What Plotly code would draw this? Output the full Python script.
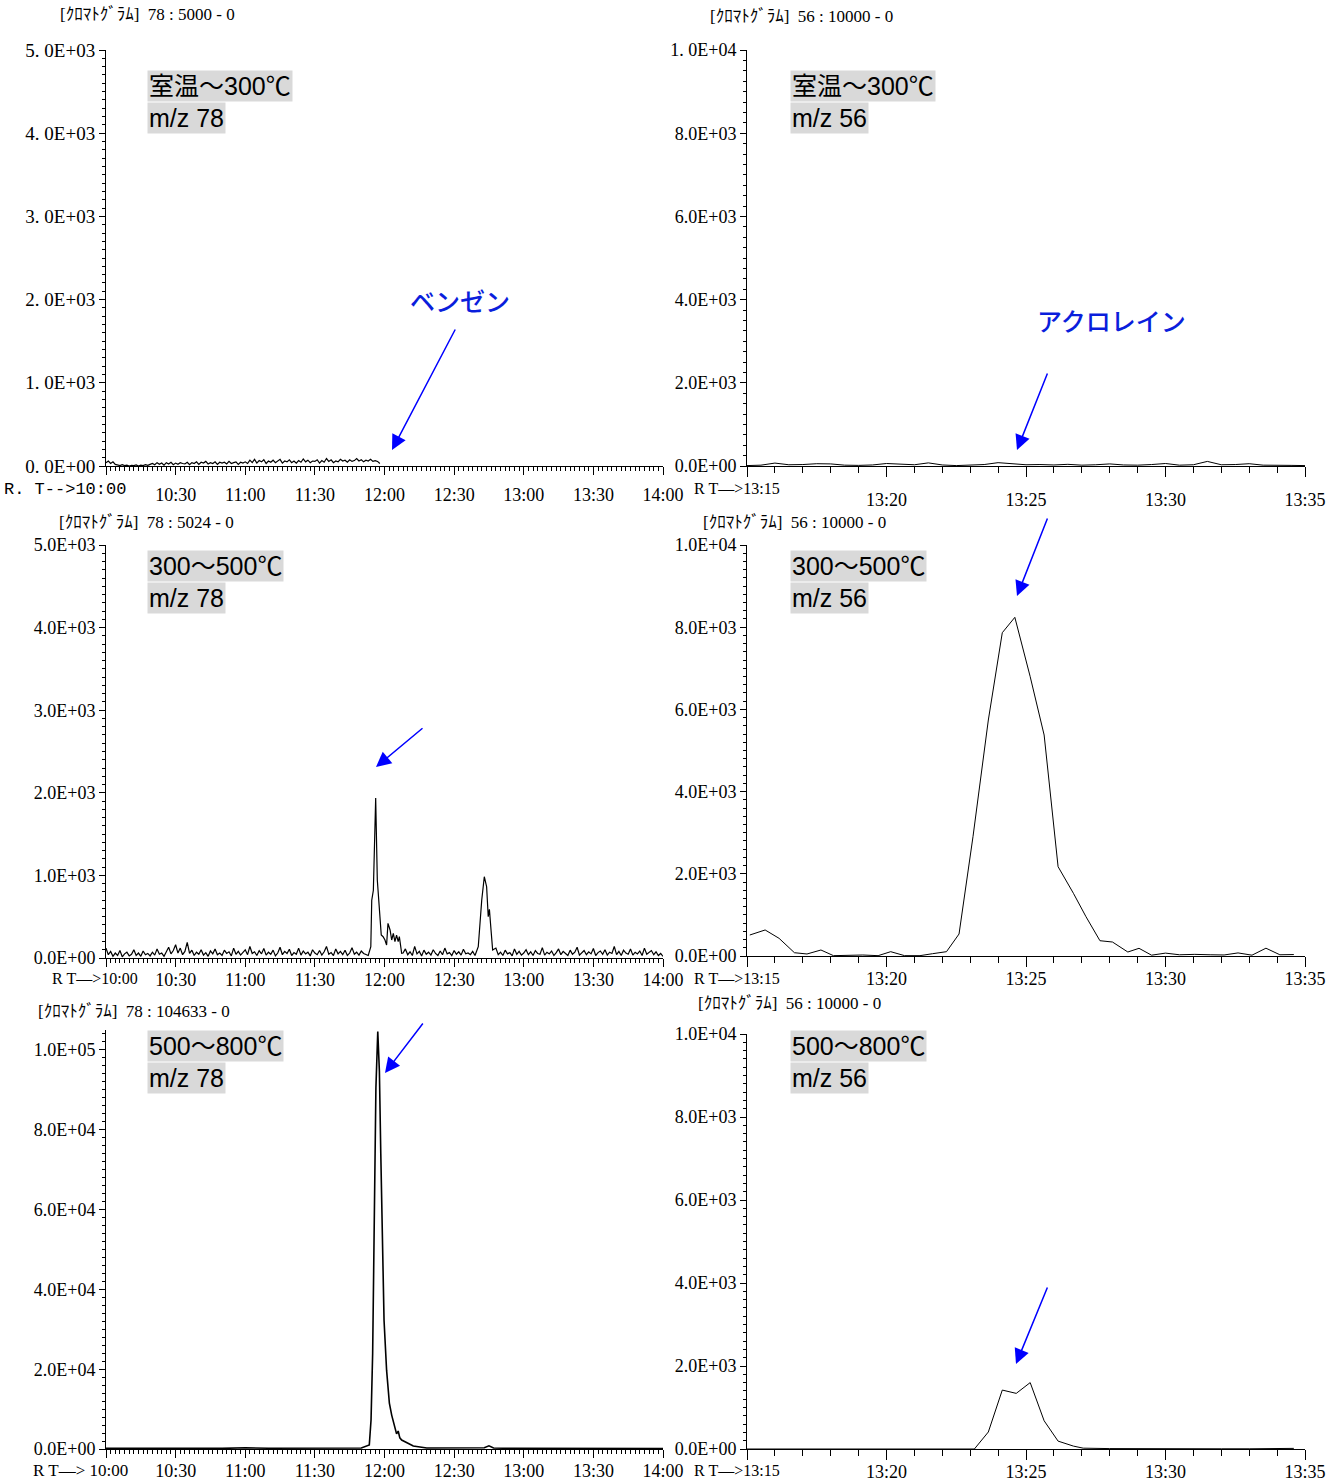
import plotly.graph_objects as go

W, H = 1344, 1483

# ---------------- DATA ----------------
# Panel A : room temp ~ 300C, m/z 78   (minutes after 10:00)
a_time = list(range(0, 119))
a_int = [40, 60, 30, 50, 20,
         10, 5, 15, 5, 10, 0, 8, 5, 12, 0, 10, 5, 15, 8, 20,
         30, 15, 40, 20, 35, 10, 40, 25, 45, 15, 35, 20, 40, 30, 25, 45, 15, 40, 30, 50,
         20, 45, 35, 55, 25, 40, 30, 50, 20, 45, 35, 45, 25, 55, 30, 40, 50, 20, 45, 35,
         50, 30, 70, 40, 80, 35, 65, 50, 75, 30, 60, 45, 70, 40, 55, 80, 35, 60, 50, 75,
         40, 60, 35, 65, 45, 85, 50, 70, 40, 60, 55, 75, 35, 65, 45, 90, 55, 75, 40, 60,
         50, 80, 60, 70, 45, 75, 55, 65, 90, 60, 75, 50, 70, 60, 80, 55, 65, 55, 30]

# Panel B : room temp ~ 300C, m/z 56   (minutes after 13:15)
b_time = [0, 0.5, 1, 1.5, 2, 2.5, 3, 3.5, 4, 4.5, 5, 5.5, 6, 6.5, 7, 7.5, 8, 8.5, 9, 9.5,
          10, 10.5, 11, 11.5, 12, 12.5, 13, 13.5, 14, 14.5, 15, 15.5, 16, 16.5, 17, 17.5,
          18, 18.5, 19, 19.5, 20]
b_int = [10, 20, 70, 30, 35, 55, 50, 20, 15, 25, 60, 45, 30, 75, 25, 10, 30, 35, 80, 60,
         30, 35, 25, 40, 20, 30, 50, 25, 20, 35, 60, 20, 30, 110, 30, 35, 55, 20, 25, 15, 10]

# Panel C : 300 ~ 500C, m/z 78   (minutes after 10:00)
c_noise1 = [120, 40, 80, 20, 60, 30, 90, 15, 50, 70, 25, 45, 100, 30, 60, 20, 85, 40, 55, 25,
            70, 35, 110, 45, 60, 20, 75, 130, 50, 90, 160, 60, 120, 40, 80, 190, 55, 95, 30, 70,
            45, 100, 35, 65, 20, 85, 50, 110, 40, 60, 30, 95, 55, 75, 25, 120, 45, 80, 35, 65,
            100, 40, 140, 55, 75, 30, 90, 50, 115, 35, 70, 45, 95, 25, 60, 130, 40, 80, 55, 105,
            30, 65, 45, 120, 35, 85, 50, 70, 25, 100, 60, 40, 90, 35, 75, 140, 45, 65, 30, 110,
            50, 80, 40, 95, 30, 60, 125, 45, 70, 35, 85, 55, 40, 30]
c_peak1_time = [114.1, 114.5, 115.2, 116.2, 116.9, 117.8, 118.6, 119.4, 120.2, 120.9,
                121.5, 122.4, 123.1, 123.8, 124.5, 125.2, 125.9, 126.4, 127.0, 127.4]
c_peak1_int = [136, 700, 820, 1937, 944, 581, 278, 258, 218, 157,
               420, 339, 218, 299, 197, 278, 197, 258, 137, 57]
c_noise2 = [60, 110, 40, 75, 30, 140, 50, 80, 25, 95, 45, 70, 35, 100, 55, 30, 85, 40, 120, 50,
            65, 30, 90, 45, 75, 35, 105, 50, 60, 40, 80, 30]
c_peak2_time = [160.4, 161.9, 163.0, 164.0, 164.7, 165.2, 165.9, 166.6]
c_peak2_int = [137, 702, 984, 863, 500, 589, 339, 97]
c_noise3 = [120, 40, 70, 30, 95, 50, 65, 25, 110, 45, 80, 35, 60, 100, 40, 75, 30, 90, 55, 45,
            125, 35, 70, 50, 85, 30, 65, 110, 40, 80, 55, 30, 95, 45, 70, 130, 35, 60, 90, 40,
            75, 50, 115, 30, 65, 85, 45, 100, 35, 70, 55, 140, 40, 80, 30, 95, 60, 45, 110, 35,
            70, 50, 85, 30, 120, 45, 65, 90, 40, 75, 30, 55, 20]
c_time = list(range(0, 114)) + c_peak1_time + list(range(128, 160)) + c_peak2_time + list(range(168, 241))
c_int = c_noise1 + c_peak1_int + c_noise2 + c_peak2_int + c_noise3

# Panel D : 300 ~ 500C, m/z 56   (minutes after 13:15)
d_time = [0.1, 0.65, 1.15, 1.7, 2.15, 2.65, 3.1, 3.6, 4.15, 4.7, 5.15, 5.65, 6.2, 6.65, 7.15,
          7.6, 8.1, 8.65, 9.15, 9.6, 10.15, 10.65, 11.15, 11.7, 12.15, 12.65, 13.1, 13.65,
          14.05, 14.5, 15.0, 15.5, 16.05, 16.6, 17.1, 17.6, 18.1, 18.6, 19.1, 19.6]
d_int = [511, 633, 430, 80, 49, 146, 8, 20, 24, 8, 105, 8, 8, 56, 105,
         535, 2903, 5742, 7866, 8240, 6796, 5377, 2173, 1525, 956, 372, 340, 97,
         187, 20, 70, 30, 40, 30, 25, 75, 20, 190, 30, 35]

# Panel E : 500 ~ 800C, m/z 78   (minutes after 10:00)
e_time = [0, 10, 20, 30, 40, 50, 60, 70, 80, 90, 100, 110,
          113.45, 114.2, 114.9, 115.6, 116.3, 117.1,
          117.8, 118.4, 119.1, 119.8, 120.9, 122.1, 123.1, 124.5, 125.2, 125.9, 126.6, 127.4,
          129.6, 132.4, 138.2,
          150, 160, 163, 165, 167, 175, 190, 205, 220, 240]
e_int = [150, 200, 150, 250, 200, 150, 300, 200, 250, 300, 200, 250,
         1000, 7250, 24000, 57250, 90500, 104633,
         94750, 74000, 49000, 32250, 19750, 11500, 8500, 5250, 3800, 4500, 2800, 2250,
         1500, 750, 250,
         200, 150, 300, 800, 250, 150, 100, 150, 100, 100]

# Panel F : 500 ~ 800C, m/z 56   (minutes after 13:15)
f_time = [0, 1, 2, 3, 4, 5, 6, 7, 8.15, 8.65, 9.15, 9.65, 10.15, 10.65, 11.15, 11.7, 12.05,
          13, 14, 15, 16, 17, 18, 19, 19.6]
f_int = [0, 0, 0, 0, 0, 0, 0, 0, 0, 410, 1420, 1340, 1600, 680, 190, 70, 20,
         10, 5, 5, 5, 5, 5, 10, 15]

# Tick labels
long_tickvals = [0, 30, 60, 90, 120, 150, 180, 210, 240]
long_ticktext = ["", "10:30", "11:00", "11:30", "12:00", "12:30", "13:00", "13:30", "14:00"]
short_tickvals = [0, 5, 10, 15, 20]
short_ticktext = ["", "13:20", "13:25", "13:30", "13:35"]

a_yvals = [0, 1000, 2000, 3000, 4000, 5000]
a_ytext = ["0. 0E+00", "1. 0E+03", "2. 0E+03", "3. 0E+03", "4. 0E+03", "5. 0E+03"]
b_yvals = [0, 2000, 4000, 6000, 8000, 10000]
b_ytext = ["0.0E+00", "2.0E+03", "4.0E+03", "6.0E+03", "8.0E+03", "1. 0E+04"]
c_yvals = [0, 1000, 2000, 3000, 4000, 5000]
c_ytext = ["0.0E+00", "1.0E+03", "2.0E+03", "3.0E+03", "4.0E+03", "5.0E+03"]
d_yvals = [0, 2000, 4000, 6000, 8000, 10000]
d_ytext = ["0.0E+00", "2.0E+03", "4.0E+03", "6.0E+03", "8.0E+03", "1.0E+04"]
e_yvals = [0, 20000, 40000, 60000, 80000, 100000]
e_ytext = ["0.0E+00", "2.0E+04", "4.0E+04", "6.0E+04", "8.0E+04", "1.0E+05"]

headers = ["[ｸﾛﾏﾄｸﾞﾗﾑ]  78 : 5000 - 0", "[ｸﾛﾏﾄｸﾞﾗﾑ]  56 : 10000 - 0",
           "[ｸﾛﾏﾄｸﾞﾗﾑ]  78 : 5024 - 0", "[ｸﾛﾏﾄｸﾞﾗﾑ]  56 : 10000 - 0",
           "[ｸﾛﾏﾄｸﾞﾗﾑ]  78 : 104633 - 0", "[ｸﾛﾏﾄｸﾞﾗﾑ]  56 : 10000 - 0"]
temps = ["室温～300℃", "室温～300℃", "300～500℃", "300～500℃", "500～800℃", "500～800℃"]
mz = ["m/z 78", "m/z 56", "m/z 78", "m/z 56", "m/z 78", "m/z 56"]
rt_labels = ["R. T-->10:00", "R T—>13:15", "R T—>10:00", "R T—>13:15", "R T—> 10:00", "R T—>13:15"]

# ---------------- FIGURE ----------------
SERIF = "Liberation Serif, Noto Sans CJK JP"
SANS = "Liberation Sans, Noto Sans CJK JP"
MONO = "Liberation Mono, monospace"

def xdom(p0, p1):
    return [p0 / W, p1 / W]

def ydom(top, bot):
    return [1 - bot / H, 1 - top / H]

panels = [
    dict(x=a_time, y=a_int, xd=(106, 663), yd=(50, 466), yr=5000, yv=a_yvals, yt=a_ytext, ym=100, long=True, so=4, lw=1.2, yfs=19),
    dict(x=b_time, y=b_int, xd=(747, 1305), yd=(50, 466), yr=10000, yv=b_yvals, yt=b_ytext, ym=250, long=False, so=7, lw=1.0, yfs=18),
    dict(x=c_time, y=c_int, xd=(106, 663), yd=(545, 958), yr=5000, yv=c_yvals, yt=c_ytext, ym=100, long=True, so=-3, lw=1.2, yfs=18),
    dict(x=d_time, y=d_int, xd=(747, 1305), yd=(545, 956), yr=10000, yv=d_yvals, yt=d_ytext, ym=200, long=False, so=-4, lw=1.0, yfs=18),
    dict(x=e_time, y=e_int, xd=(106, 663), yd=(1030, 1449), yr=105000, yv=e_yvals, yt=e_ytext, ym=2000, long=True, so=-3, lw=1.6, yfs=18),
    dict(x=f_time, y=f_int, xd=(747, 1305), yd=(1034, 1449), yr=10000, yv=d_yvals, yt=d_ytext, ym=200, long=False, so=-4, lw=1.0, yfs=18),
]

fig = go.Figure()
layout = dict(width=W, height=H, margin=dict(l=0, r=0, t=0, b=0, autoexpand=False),
              paper_bgcolor="white", plot_bgcolor="white", showlegend=False)

for i, p in enumerate(panels):
    n = "" if i == 0 else str(i + 1)
    fig.add_trace(go.Scatter(x=p["x"], y=p["y"], mode="lines",
                             line=dict(color="black", width=p["lw"]),
                             xaxis="x" + n, yaxis="y" + n, hoverinfo="skip"))
    layout["xaxis" + n] = dict(
        domain=xdom(*p["xd"]), anchor="y" + n,
        range=[0, 240] if p["long"] else [0, 20],
        showline=True, linecolor="black", linewidth=1, showgrid=False, zeroline=False,
        ticks="outside", tickcolor="black", tickwidth=1,
        ticklen=8 if p["long"] else 10,
        tickmode="array",
        tickvals=long_tickvals if p["long"] else short_tickvals,
        ticktext=long_ticktext if p["long"] else short_ticktext,
        tickfont=dict(family=SERIF, size=18, color="black"),
        ticklabelstandoff=p["so"], automargin=False,
        minor=dict(ticks="outside", tickmode="linear", tick0=0,
                   dtick=2 if p["long"] else 1,
                   ticklen=4 if p["long"] else 6, tickcolor="black", tickwidth=1, showgrid=False),
    )
    layout["yaxis" + n] = dict(
        domain=ydom(*p["yd"]), anchor="x" + n, range=[0, p["yr"]],
        showline=True, linecolor="black", linewidth=1, showgrid=False, zeroline=False,
        ticks="outside", tickcolor="black", tickwidth=1, ticklen=6,
        tickmode="array", tickvals=p["yv"], ticktext=p["yt"],
        tickfont=dict(family=SERIF, size=p["yfs"], color="black"),
        ticklabelstandoff=0, automargin=False,
        minor=dict(ticks="outside", tickmode="linear", tick0=0, dtick=p["ym"],
                   ticklen=3, tickcolor="black", tickwidth=1, showgrid=False),
    )

ann = []
header_pos = [(58, 15), (708, 16), (57, 522), (701, 522), (36, 1011), (696, 1003)]
for (px, py), t in zip(header_pos, headers):
    ann.append(dict(x=px / W, y=1 - py / H, xref="paper", yref="paper", text=t,
                    showarrow=False, xanchor="left", yanchor="middle",
                    font=dict(family=SERIF, size=17, color="black")))

box_pos = [(147, 70), (790, 70), (147, 550), (790, 550), (147, 1030), (790, 1030)]
for (px, py), t1, t2 in zip(box_pos, temps, mz):
    for dy, t in ((0, t1), (32, t2)):
        ann.append(dict(x=px / W, y=1 - (py + dy) / H, xref="paper", yref="paper", text=t,
                        showarrow=False, xanchor="left", yanchor="top",
                        bgcolor="#d9d9d9", borderpad=1,
                        font=dict(family=SANS, size=25, color="black")))

# R.T labels (right edge px, center y px, font)
rt_specs = [(128, 489, MONO, 17), (782, 488, SERIF, 16), (140, 978, SERIF, 16),
            (782, 978, SERIF, 16), (130, 1470, SERIF, 17), (782, 1470, SERIF, 16)]
for (px, py, fam, fs), t in zip(rt_specs, rt_labels):
    ann.append(dict(x=px / W, y=1 - py / H, xref="paper", yref="paper", text=t,
                    showarrow=False, xanchor="right", yanchor="middle",
                    font=dict(family=fam, size=fs, color="black")))

ann.append(dict(x=460 / W, y=1 - 300 / H, xref="paper", yref="paper", text="ベンゼン",
                showarrow=False, xanchor="center", yanchor="middle",
                font=dict(family="Noto Sans CJK JP", size=25, color="#0A1EDC", weight=500)))
ann.append(dict(x=1111 / W, y=1 - 320 / H, xref="paper", yref="paper", text="アクロレイン",
                showarrow=False, xanchor="center", yanchor="middle",
                font=dict(family="Noto Sans CJK JP", size=25, color="#0A1EDC", weight=500)))

arrows = [((392, 450), (456, 328)), ((1017, 450), (1048, 372)),
          ((376, 767), (424, 727)), ((1017, 596), (1048, 517)),
          ((385, 1073), (424, 1022)), ((1016, 1364), (1048, 1286))]
for (tx, ty), (sx, sy) in arrows:
    ann.append(dict(x=tx / W, y=1 - ty / H, xref="paper", yref="paper", text="",
                    showarrow=True, ax=sx - tx, ay=sy - ty, axref="pixel", ayref="pixel",
                    arrowhead=2, arrowsize=2, arrowwidth=1.5, arrowcolor="#0000FF", standoff=0))

layout["annotations"] = ann
fig.update_layout(**layout)
fig.write_html("out.html",
               post_script="document.body.style.margin='0';document.body.style.padding='0';"
                           "document.documentElement.style.overflow='hidden';")
